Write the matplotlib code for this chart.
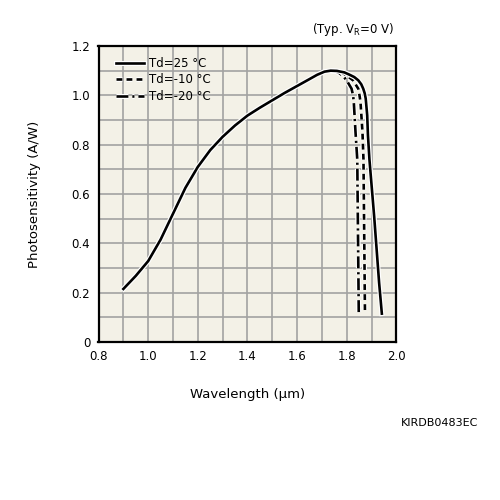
import matplotlib
matplotlib.use("Agg")
import matplotlib.pyplot as plt
import matplotlib.patheffects as pe

# common rising part of the curve (all temperatures)
wl_rise = [0.90, 0.95, 1.00, 1.05, 1.10, 1.15, 1.20, 1.25, 1.30, 1.35, 1.40,
           1.45, 1.50, 1.55, 1.60, 1.65, 1.68, 1.71, 1.735]
ps_rise = [0.215, 0.268, 0.328, 0.415, 0.52, 0.625, 0.71, 0.778, 0.832, 0.878, 0.918,
           0.95, 0.98, 1.01, 1.038, 1.066, 1.083, 1.096, 1.10]

# cutoff tails
wl_25 = [1.76, 1.79, 1.812, 1.83, 1.846, 1.858, 1.866, 1.872, 1.876, 1.882,
         1.885, 1.891, 1.91, 1.93, 1.941]
ps_25 = [1.099, 1.093, 1.083, 1.074, 1.061, 1.045, 1.027, 1.008, 0.987, 0.919,
         0.838, 0.74, 0.51, 0.24, 0.115]
wl_m10 = [1.76, 1.779, 1.80, 1.825, 1.846, 1.851, 1.855, 1.863, 1.867, 1.873]
ps_m10 = [1.098, 1.093, 1.08, 1.061, 1.027, 1.0, 0.973, 0.85, 0.74, 0.12]
wl_m20 = [1.75, 1.766, 1.785, 1.799, 1.819, 1.825, 1.828, 1.835, 1.842, 1.848]
ps_m20 = [1.098, 1.093, 1.078, 1.061, 1.027, 1.0, 0.973, 0.85, 0.74, 0.12]

labels = ["Td=25 °C", "Td=-10 °C", "Td=-20 °C"]

fig = plt.figure(figsize=(5, 5), dpi=100)
ax = fig.add_axes([0.197, 0.316, 0.596, 0.592])
ax.set_facecolor("#f3f1e7")

halo = [pe.Stroke(linewidth=3.6, foreground="white"), pe.Normal()]
ax.plot(wl_rise + wl_25, ps_rise + ps_25, color="black", lw=1.9, ls="-",
        label=labels[0], path_effects=halo, zorder=5)
ax.plot(wl_rise[-1:] + wl_m10, ps_rise[-1:] + ps_m10, color="black", lw=1.9,
        ls=(0, (2.2, 1.6)), label=labels[1], path_effects=halo, zorder=4)
ax.plot(wl_rise[-1:] + wl_m20, ps_rise[-1:] + ps_m20, color="black", lw=1.9,
        ls=(0, (4.5, 1.5, 0.8, 1.5)), label=labels[2], path_effects=halo, zorder=3)

ax.set_xlim(0.8, 2.0)
ax.set_ylim(0, 1.2)
ax.set_xticks([0.8, 1.0, 1.2, 1.4, 1.6, 1.8, 2.0])
ax.set_xticklabels(["0.8", "1.0", "1.2", "1.4", "1.6", "1.8", "2.0"])
ax.set_yticks([0, 0.2, 0.4, 0.6, 0.8, 1.0, 1.2])
ax.set_yticklabels(["0", "0.2", "0.4", "0.6", "0.8", "1.0", "1.2"])
ax.set_xticks([0.9 + 0.2 * i for i in range(6)], minor=True)
ax.set_yticks([0.1 + 0.2 * i for i in range(6)], minor=True)
ax.grid(True, which="both", color="#a2a2a2", lw=1.2)
ax.set_axisbelow(True)
ax.tick_params(which="both", length=0, labelsize=8.5, pad=6)
for s in ax.spines.values():
    s.set_linewidth(1.6)

ax.set_xlabel("Wavelength (μm)", fontsize=9.5, labelpad=18)
ax.set_ylabel("Photosensitivity (A/W)", fontsize=9.5, labelpad=22)

leg = ax.legend(loc="upper left", bbox_to_anchor=(0.058, 0.963), frameon=False,
                fontsize=8.5, handlelength=2.4, labelspacing=0.3,
                handletextpad=0.4, borderpad=0, borderaxespad=0)

fig.text(0.79, 0.925, "(Typ. V$_\\mathrm{R}$=0 V)", ha="right", va="bottom", fontsize=8.5)
fig.text(0.957, 0.155, "KIRDB0483EC", ha="right", va="center", fontsize=8)

fig.savefig("out.png", dpi=100)
